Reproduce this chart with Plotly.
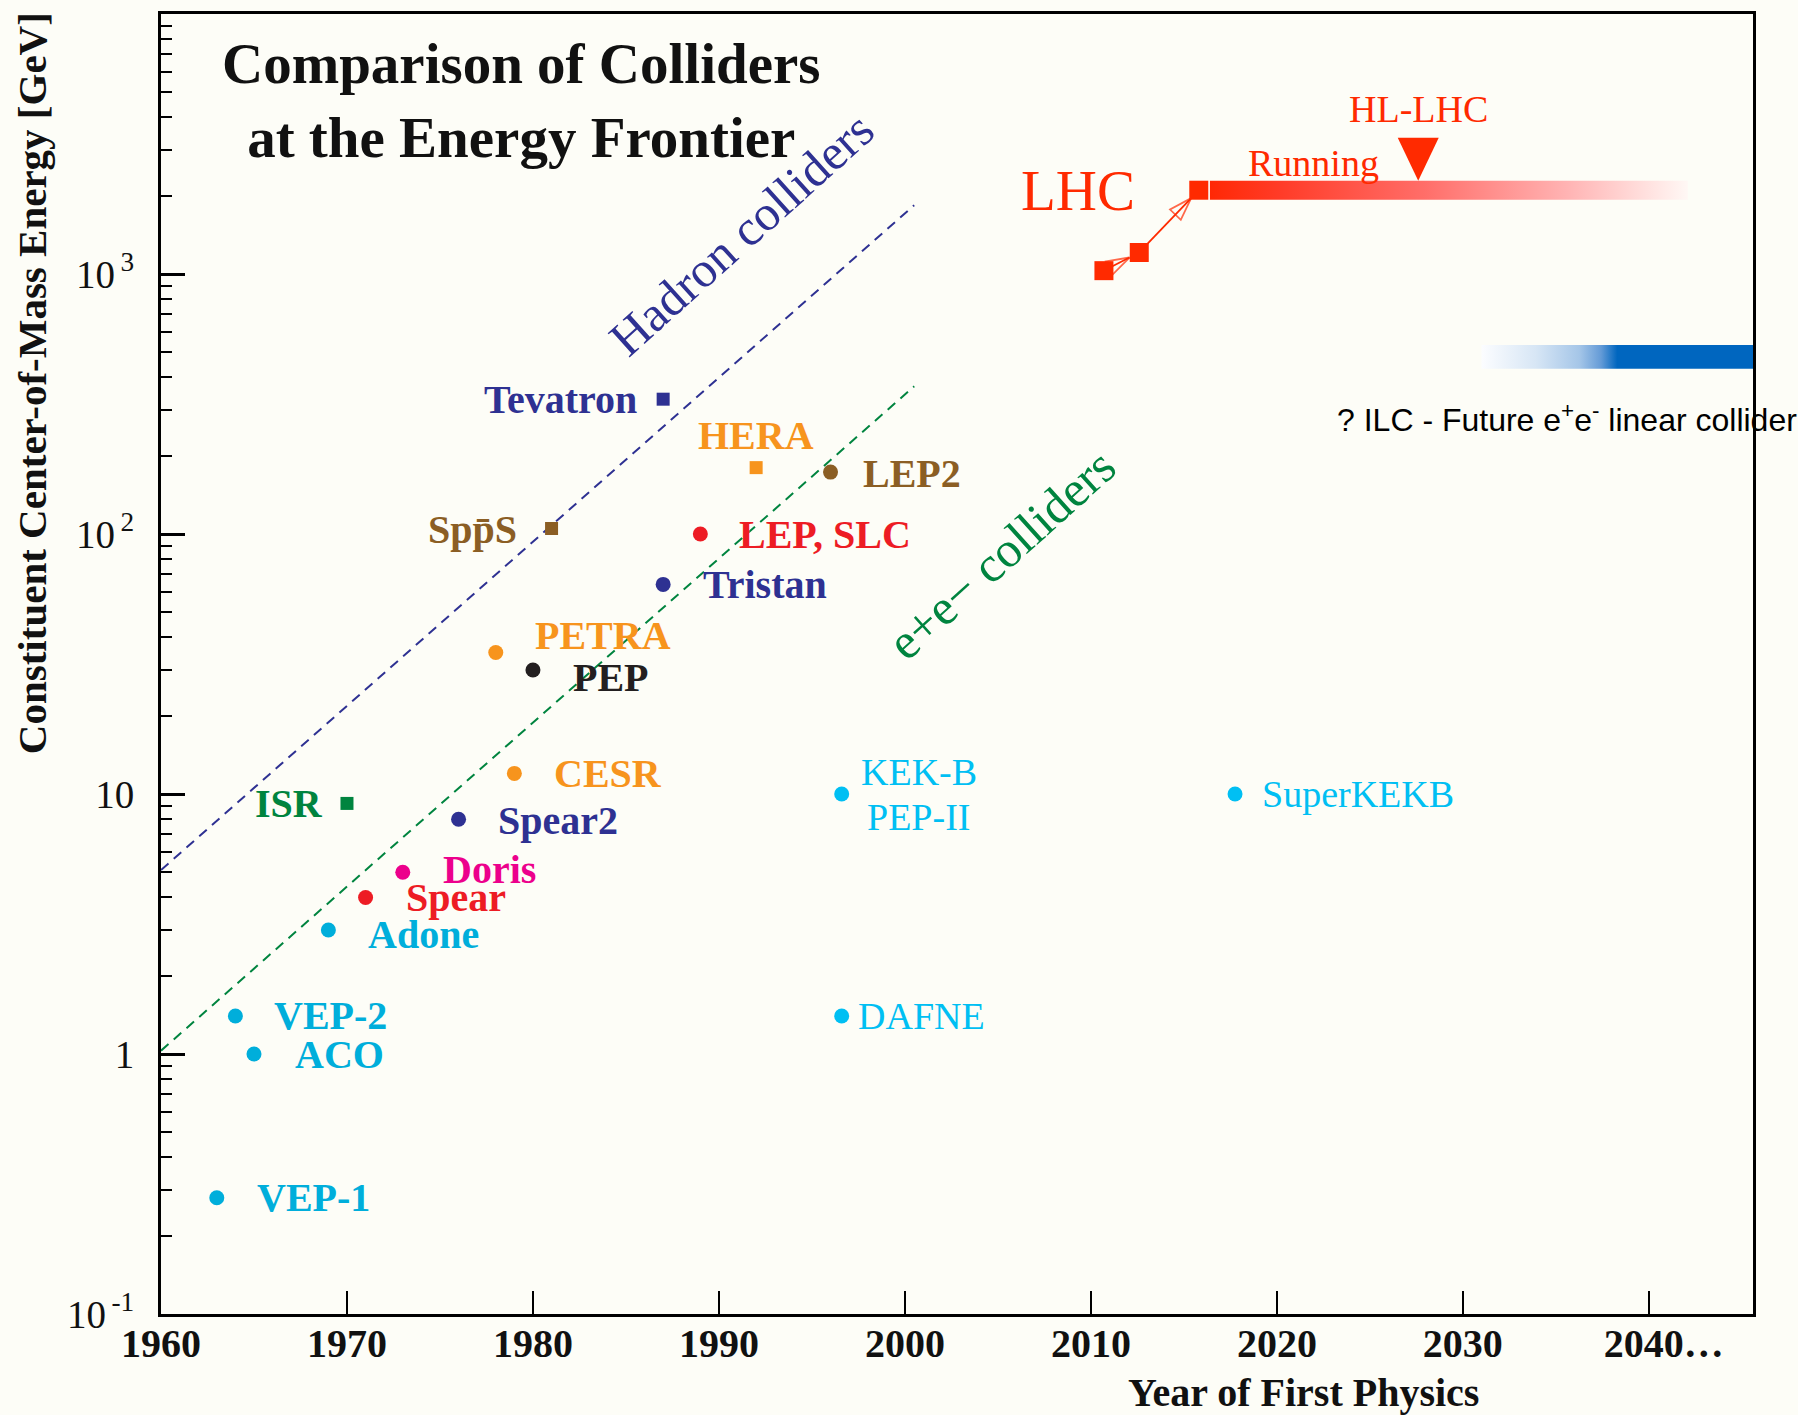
import numpy as np
import plotly.graph_objects as go

# ---------------- data ----------------
circ_names = ["VEP-1", "ACO", "VEP-2", "Adone", "Spear", "Doris", "Spear2", "CESR",
              "PETRA", "PEP", "Tristan", "LEP, SLC", "LEP2", "KEK-B", "DAFNE", "SuperKEKB"]
circ_years = [1963, 1965, 1964, 1969, 1971, 1973, 1976, 1979,
              1978, 1980, 1987, 1989, 1996, 1996.6, 1996.6, 2017.75]
circ_energy = [0.28, 1.0, 1.4, 3.0, 4.0, 5.0, 8.0, 12,
               35, 30, 64, 100, 173, 10, 1.4, 10]

sq_names = ["ISR", "SppS", "Tevatron", "HERA"]
sq_years = [1970, 1981, 1987, 1992]
sq_energy = [9.2, 105, 330, 180]

lhc_years = [2010.7, 2012.6, 2015.8]
lhc_energy = [1030, 1210, 2100]
lhc_run_years = [2016.4, 2042.1]
lhc_run_energy = 2100
hl_lhc_year = 2027.6

ilc_years = [2031.0, 2045.6]
ilc_energy = 480

hadron_line_years = [1960, 2000.5]
hadron_line_energy = [5.1, 1840]
ee_line_years = [1960, 2000.5]
ee_line_energy = [1.03, 370]

x_tickvals = [1960, 1970, 1980, 1990, 2000, 2010, 2020, 2030, 2040]
x_ticktext = ["1960", "1970", "1980", "1990", "2000", "2010", "2020", "2030",
              "\u00a0\u00a0\u00a02040…"]
y_tickvals = [0.1, 1, 10, 100, 1000]
y_ticktext = ["10<sup>\u2009-1</sup>", "1", "10", "10<sup>\u20092</sup>", "10<sup>\u20093</sup>"]

# ---------------- styles ----------------
NAVY = "#2e3192"; GREEN = "#00843f"; BROWN = "#8b5e24"; ORANGE = "#f7941d"
RED = "#ed1c24"; MAGENTA = "#ec008c"; CYAN = "#00aedb"; CYAN2 = "#00bff3"
BLACK = "#231f20"; LHCRED = "#ff2a00"; ILCBLUE = "#0066bf"; BG = "#fdfdf7"

circ_colors = [CYAN, CYAN, CYAN, CYAN, RED, MAGENTA, NAVY, ORANGE,
               ORANGE, BLACK, NAVY, RED, BROWN, CYAN2, CYAN2, CYAN2]
sq_colors = [GREEN, BROWN, NAVY, ORANGE]

# label style: (xanchor, xshift, yshift, bold, size)
label_style = {
    "VEP-1": ("left", 38, 0, True, 40), "ACO": ("left", 39, 0, True, 40),
    "VEP-2": ("left", 37, 1, True, 40), "Adone": ("left", 38, -5, True, 40),
    "Spear": ("left", 38, 0, True, 40), "Doris": ("left", 38, 3, True, 40),
    "Spear2": ("left", 37, -1, True, 40), "CESR": ("left", 38, 0, True, 40),
    "PETRA": ("left", 37, 17, True, 40), "PEP": ("left", 38, -8, True, 40),
    "Tristan": ("left", 38, 0, True, 40), "LEP, SLC": ("left", 37, 0, True, 40),
    "LEP2": ("left", 30, -1, True, 40), "DAFNE": ("left", 14, 0, False, 38),
    "SuperKEKB": ("left", 25, 0, False, 38),
    "ISR": ("right", -22, 0, True, 40), "SppS": ("right", -33, -1, True, 40),
    "Tevatron": ("right", -24, 0, True, 40), "HERA": ("center", 0, 32, True, 40),
}

W, H = 1798, 1415
ML, MR, MT, MB = 161, 45, 11, 101
PW, PH = W - ML - MR, H - MT - MB
XR = [1960, 2045.6]
YR = [-1, 4]
px_per_year = PW / (XR[1] - XR[0])
px_per_dec = PH / (YR[1] - YR[0])

SERIF = "Liberation Serif, Times New Roman, serif"
SANS = "Liberation Sans, Arial, sans-serif"

fig = go.Figure()

# dashed guide lines
fig.add_trace(go.Scatter(x=hadron_line_years, y=hadron_line_energy, mode="lines",
                         line=dict(color=NAVY, width=2, dash="10px,7px"), hoverinfo="skip"))
fig.add_trace(go.Scatter(x=ee_line_years, y=ee_line_energy, mode="lines",
                         line=dict(color=GREEN, width=2, dash="10px,7px"), hoverinfo="skip"))

# gradient bars
def bar_poly(years, energy, half_px):
    h = half_px / px_per_dec
    lo, hi = energy * 10 ** (-h), energy * 10 ** h
    return [years[0], years[1], years[1], years[0], years[0]], [lo, lo, hi, hi, lo]

bx, by = bar_poly(ilc_years, ilc_energy, 12)
fig.add_trace(go.Scatter(x=bx, y=by, mode="lines", fill="toself", line=dict(width=0),
                         fillgradient=dict(type="horizontal", colorscale=[
                             [0, "rgb(252,253,255)"], [0.2, "rgb(215,230,245)"],
                             [0.36, "rgb(165,198,232)"], [0.44, "rgb(100,155,215)"],
                             [0.5, ILCBLUE], [1, ILCBLUE]]), hoverinfo="skip"))

bx, by = bar_poly(lhc_run_years, lhc_run_energy, 9.5)
fig.add_trace(go.Scatter(x=bx, y=by, mode="lines", fill="toself", line=dict(width=0),
                         fillgradient=dict(type="horizontal", colorscale=[
                             [0, "rgb(255,40,5)"], [0.15, "rgb(255,60,40)"],
                             [0.45, "rgb(255,110,105)"], [0.75, "rgb(255,180,180)"],
                             [1, "rgb(255,248,245)"]]), hoverinfo="skip"))

# HL-LHC triangle sitting on top of the bar
bar_top = np.log10(lhc_run_energy) + 9.5 / px_per_dec
tri_w = 20.5 / px_per_year
tri_h = 43 / px_per_dec
fig.add_trace(go.Scatter(
    x=[hl_lhc_year - tri_w, hl_lhc_year + tri_w, hl_lhc_year, hl_lhc_year - tri_w],
    y=[10 ** (bar_top + tri_h), 10 ** (bar_top + tri_h), 10 ** bar_top, 10 ** (bar_top + tri_h)],
    mode="lines", fill="toself", fillcolor=LHCRED, line=dict(width=0, color=LHCRED), hoverinfo="skip"))

# LHC arrows between successive points
for i in range(len(lhc_years) - 1):
    x1, x2 = lhc_years[i], lhc_years[i + 1]
    l1, l2 = np.log10(lhc_energy[i]), np.log10(lhc_energy[i + 1])
    dxp, dyp = (x2 - x1) * px_per_year, (l2 - l1) * px_per_dec
    n = np.hypot(dxp, dyp)
    ux, uy = dxp / n, dyp / n
    s0, s1 = 9, 11
    xs = x1 + ux * s0 / px_per_year
    ys = 10 ** (l1 + uy * s0 / px_per_dec)
    xe = x2 - ux * s1 / px_per_year
    ye = 10 ** (l2 - uy * s1 / px_per_dec)
    fig.add_trace(go.Scatter(x=[xs, xe], y=[ys, ye], mode="lines+markers",
                             line=dict(color=LHCRED, width=1.8),
                             marker=dict(symbol=["circle", "arrow-open"], size=[0, 24],
                                         angleref="previous", color=LHCRED,
                                         line=dict(color=LHCRED, width=1.8)),
                             hoverinfo="skip"))

fig.add_trace(go.Scatter(x=lhc_years, y=lhc_energy, mode="markers",
                         marker=dict(symbol="square", size=19, color=LHCRED), hoverinfo="skip"))

# collider points
fig.add_trace(go.Scatter(x=circ_years, y=circ_energy, mode="markers",
                         marker=dict(symbol="circle", size=15, color=circ_colors, line=dict(width=0)),
                         hoverinfo="skip"))
fig.add_trace(go.Scatter(x=sq_years, y=sq_energy, mode="markers",
                         marker=dict(symbol="square", size=13, color=sq_colors, line=dict(width=0)),
                         hoverinfo="skip"))

ann = []

def label(text, x, e, color, xanchor, xshift, yshift, bold, size, font=SERIF):
    ann.append(dict(x=x, y=np.log10(e), xref="x", yref="y", text=text, showarrow=False,
                    xanchor=xanchor, yanchor="middle", xshift=xshift, yshift=yshift,
                    font=dict(family=font, size=size, color=color,
                              weight="bold" if bold else "normal")))

for nm, x, e, c in zip(circ_names, circ_years, circ_energy, circ_colors):
    if nm == "KEK-B":
        label("KEK-B", x, e, c, "center", 77, 22, False, 38)
        label("PEP-II", x, e, c, "center", 77, -23, False, 38)
        continue
    xa, xs_, ys_, b, s = label_style[nm]
    label(nm, x, e, c, xa, xs_, ys_, b, s)

for nm, x, e, c in zip(sq_names, sq_years, sq_energy, sq_colors):
    xa, xs_, ys_, b, s = label_style[nm]
    txt = "Spp\u0304S" if nm == "SppS" else nm
    label(txt, x, e, c, xa, xs_, ys_, b, s)

# LHC texts
label("LHC", lhc_years[2], lhc_energy[2], LHCRED, "right", -62, 0, False, 57)
label("Running", lhc_years[2], lhc_energy[2], LHCRED, "left", 47, 27, False, 38)
ann.append(dict(x=hl_lhc_year, y=bar_top + tri_h, xref="x", yref="y", text="HL-LHC",
                showarrow=False, xanchor="center", yanchor="bottom", yshift=6,
                font=dict(family=SERIF, size=38, color=LHCRED)))

# rotated line labels
ann.append(dict(x=1991.2, y=3.155, xref="x", yref="y", text="Hadron colliders", showarrow=False,
                textangle=-42, xanchor="center", yanchor="middle",
                font=dict(family=SERIF, size=50, color=NAVY)))
ann.append(dict(x=2005.2, y=1.922, xref="x", yref="y", text="e+e− colliders", showarrow=False,
                textangle=-42, xanchor="center", yanchor="middle",
                font=dict(family=SERIF, size=50, color=GREEN)))

# ILC text
ann.append(dict(x=(1335 - ML) / PW, y=(H - MB - 416) / PH, xref="paper", yref="paper",
                text="? ILC - Future e<sup>+</sup>e<sup>-</sup> linear collider", showarrow=False,
                xanchor="left", yanchor="middle", font=dict(family=SANS, size=32, color="black")))

# title
ann.append(dict(x=(521 - ML) / PW, y=(H - MB - 98) / PH, xref="paper", yref="paper",
                text="Comparison of Colliders<br>at the Energy Frontier", showarrow=False,
                xanchor="center", yanchor="middle", align="center",
                font=dict(family=SERIF, size=57, color="#111111", weight="bold")))

# axis titles
ann.append(dict(x=(32 - ML) / PW, y=(H - MB - 381) / PH, xref="paper", yref="paper",
                text="Constituent Center-of-Mass Energy [GeV]", showarrow=False, textangle=-90,
                xanchor="center", yanchor="middle",
                font=dict(family=SERIF, size=41, color="#111111", weight="bold")))
ann.append(dict(x=(1303 - ML) / PW, y=(H - MB - 1393) / PH, xref="paper", yref="paper",
                text="Year of First Physics", showarrow=False,
                xanchor="center", yanchor="middle",
                font=dict(family=SERIF, size=40, color="#111111", weight="bold")))

fig.update_layout(
    width=W, height=H, margin=dict(l=ML, r=MR, t=MT, b=MB),
    paper_bgcolor=BG, plot_bgcolor=BG, showlegend=False, annotations=ann,
    xaxis=dict(range=XR, tickmode="array", tickvals=x_tickvals, ticktext=x_ticktext,
               ticks="inside", ticklen=23, tickwidth=2, tickcolor="black",
               showline=True, linecolor="black", linewidth=3, mirror=True,
               showgrid=False, zeroline=False, ticklabelstandoff=-8,
               tickfont=dict(family=SERIF, size=40, color="#111111", weight="bold")),
    yaxis=dict(type="log", range=YR, tickmode="array", tickvals=y_tickvals, ticktext=y_ticktext,
               ticks="inside", ticklen=24, tickwidth=3, tickcolor="black",
               minor=dict(ticks="inside", ticklen=11, tickwidth=2, tickcolor="black",
                          dtick="D1", showgrid=False),
               showline=True, linecolor="black", linewidth=3, mirror=True,
               showgrid=False, zeroline=False, ticklabelstandoff=16,
               tickfont=dict(family=SERIF, size=39, color="#111111")),
)

fig.write_html("out.html", config={"displayModeBar": False},
               post_script="document.body.style.margin='0';document.body.style.background='" + BG + "';")
